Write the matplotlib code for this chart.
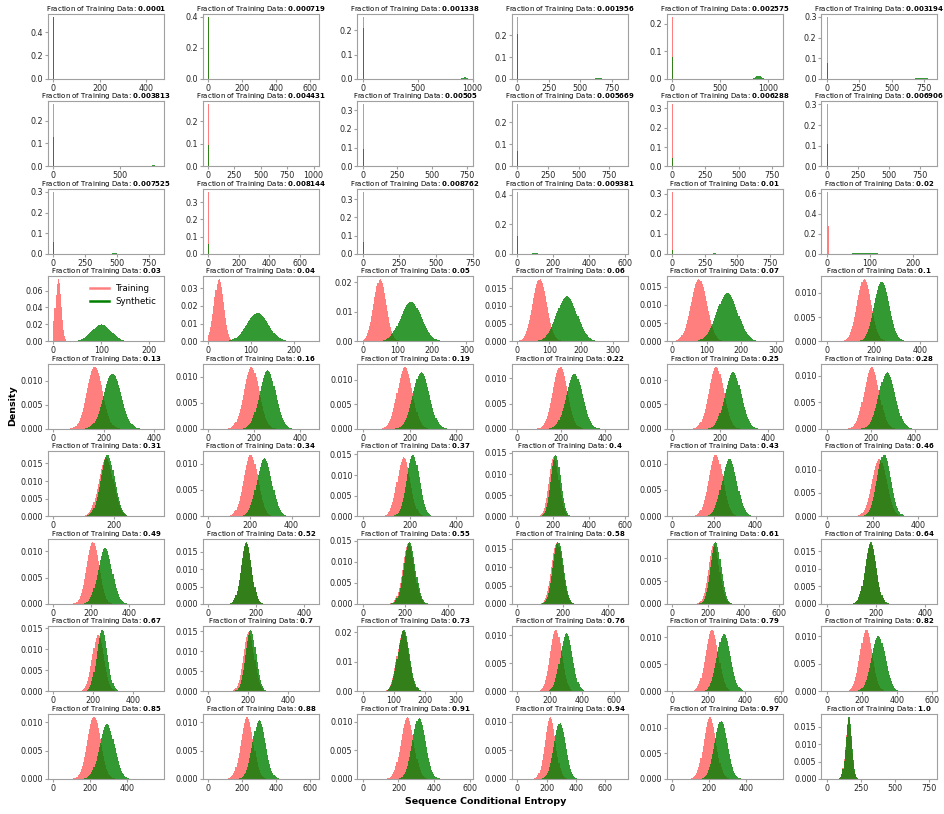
import numpy as np
import matplotlib.pyplot as plt
from matplotlib.lines import Line2D
from matplotlib.ticker import MultipleLocator

# Chart data
FRACTIONS = ["0.0001", "0.000719", "0.001338", "0.001956", "0.002575", "0.003194",
             "0.003813", "0.004431", "0.00505", "0.005669", "0.006288", "0.006906",
             "0.007525", "0.008144", "0.008762", "0.009381", "0.01", "0.02",
             "0.03", "0.04", "0.05", "0.06", "0.07", "0.1",
             "0.13", "0.16", "0.19", "0.22", "0.25", "0.28",
             "0.31", "0.34", "0.37", "0.4", "0.43", "0.46",
             "0.49", "0.52", "0.55", "0.58", "0.61", "0.64",
             "0.67", "0.7", "0.73", "0.76", "0.79", "0.82",
             "0.85", "0.88", "0.91", "0.94", "0.97", "1.0"]

# largest entropy value seen in each panel
DATA_MAX = [457, 620, 960, 840, 1100, 810,
            790, 1000, 760, 860, 790, 850,
            830, 690, 720, 590, 810, 245,
            220, 245, 305, 330, 305, 450,
            420, 460, 450, 480, 440, 480,
            350, 505, 450, 590, 505, 460,
            560, 440, 495, 465, 590, 430,
            530, 530, 340, 655, 580, 600,
            570, 620, 590, 720, 570, 770]

# x tick spacing shown in each panel
X_TICK_STEP = [200, 200, 500, 250, 500, 250,
               500, 250, 250, 250, 250, 250,
               250, 200, 250, 200, 250, 100,
               100, 100, 100, 100, 100, 200,
               200, 200, 200, 200, 200, 200,
               200, 200, 200, 200, 200, 200,
               200, 200, 200, 200, 200, 200,
               200, 200, 100, 200, 200, 200,
               200, 200, 200, 200, 200, 250]

# density of the zero-entropy bin
TRAIN_SPIKE = [0.53, 0.40, 0.255, 0.285, 0.225, 0.30,
               0.27, 0.275, 0.33, 0.28, 0.32, 0.30,
               0.30, 0.36, 0.34, 0.42, 0.31, 0.61] + [0] * 36
SYNTH_SPIKE = [0.53, 0.40, 0.21, 0.205, 0.078, 0.075,
               0.13, 0.095, 0.095, 0.07, 0.045, 0.11,
               0.06, 0.06, 0.065, 0.12, 0.02, 0.0] + [0] * 36

# main bump of each distribution: peak density, position, spread
TRAIN_PEAK = [0] * 17 + [0.28,
              0.073, 0.035, 0.021, 0.0175, 0.017, 0.0127,
              0.0128, 0.0119, 0.0126, 0.0122, 0.0127, 0.0117,
              0.0165, 0.0117, 0.0143, 0.0140, 0.0117, 0.0122,
              0.0118, 0.0176, 0.0145, 0.0165, 0.0130, 0.0172,
              0.0135, 0.0148, 0.0205, 0.0110, 0.0115, 0.0112,
              0.0109, 0.0109, 0.0108, 0.0108, 0.0121, 0.0175]
TRAIN_CENTER = [0] * 17 + [3.5,
                10, 25, 50, 70, 78, 160,
                165, 190, 180, 195, 185, 205,
                175, 205, 175, 205, 210, 230,
                210, 160, 215, 175, 235, 180,
                225, 205, 130, 240, 220, 225,
                220, 230, 250, 225, 205, 160]
TRAIN_WIDTH = [1] * 17 + [0.8,
               6, 11, 18, 22, 23, 30,
               31, 33, 32, 33, 31, 34,
               24, 34, 28, 28, 34, 32,
               33, 22, 27, 24, 30, 23,
               29, 27, 19, 36, 35, 35,
               36, 36, 36, 36, 33, 22]

SYNTH_PEAK = [0.0005, 0.0005, 0.006, 0.002, 0.012, 0.006,
              0.004, 0.003, 0.003, 0.003, 0.004, 0.002,
              0.002, 0.002, 0.002, 0.003, 0.002, 0.013,
              0.020, 0.016, 0.0135, 0.0127, 0.0133, 0.0122,
              0.0114, 0.0113, 0.0115, 0.0109, 0.0116, 0.0107,
              0.0175, 0.0110, 0.0150, 0.0146, 0.0109, 0.0132,
              0.0107, 0.0178, 0.0147, 0.0168, 0.0135, 0.0176,
              0.0147, 0.0154, 0.0210, 0.0104, 0.0107, 0.0100,
              0.0097, 0.0103, 0.0106, 0.0097, 0.0112, 0.0180]
SYNTH_CENTER = [400, 560, 930, 650, 900, 730,
                750, 700, 500, 600, 650, 200,
                480, 370, 200, 100, 330, 90,
                100, 115, 140, 155, 160, 235,
                235, 260, 250, 260, 255, 275,
                180, 270, 215, 215, 275, 250,
                275, 160, 220, 180, 245, 180,
                245, 215, 132, 305, 285, 295,
                290, 300, 315, 290, 265, 162]
SYNTH_WIDTH = [30, 30, 20, 40, 25, 30,
               40, 50, 50, 60, 50, 60,
               60, 50, 50, 40, 60, 20,
               20, 25, 30, 32, 30, 32,
               35, 35, 35, 37, 34, 37,
               23, 36, 27, 27, 36, 30,
               37, 22, 27, 23, 29, 23,
               27, 26, 19, 38, 37, 40,
               40, 38, 37, 40, 35, 22]

# Matplotlib configuration
N_ROWS, N_COLS = 9, 6
N_BINS = 100
TRAIN_COLOR = "red"
SYNTH_COLOR = "green"
SPINE_COLOR = "#a0a0a0"
TEXT_COLOR = "#262626"
PX = 1 / 100
FIG_SIZE = (944 * PX, 814 * PX)

plt.rcParams["xtick.labelsize"] = 5.8
plt.rcParams["ytick.labelsize"] = 5.8
plt.rcParams["xtick.major.size"] = 2
plt.rcParams["ytick.major.size"] = 2

fig, axes = plt.subplots(N_ROWS, N_COLS, figsize=FIG_SIZE, dpi=100)
fig.subplots_adjust(left=0.051, right=0.993, top=0.983, bottom=0.043,
                    wspace=0.333, hspace=0.346)

for i, ax in enumerate(axes.flat):
    edges = np.linspace(0, DATA_MAX[i], N_BINS + 1)
    centers = 0.5 * (edges[:-1] + edges[1:])

    train = TRAIN_PEAK[i] * np.exp(-0.5 * ((centers - TRAIN_CENTER[i]) / TRAIN_WIDTH[i]) ** 2)
    synth = SYNTH_PEAK[i] * np.exp(-0.5 * ((centers - SYNTH_CENTER[i]) / SYNTH_WIDTH[i]) ** 2)
    train[0] += TRAIN_SPIKE[i]
    synth[0] += SYNTH_SPIKE[i]

    ax.hist(centers, bins=edges, weights=train, histtype="stepfilled",
            color=TRAIN_COLOR, alpha=0.5, linewidth=0)
    ax.hist(centers, bins=edges, weights=synth, histtype="stepfilled",
            color=SYNTH_COLOR, alpha=0.8, linewidth=0)

    ax.set_xlim(-0.05 * DATA_MAX[i], 1.05 * DATA_MAX[i])
    ax.xaxis.set_major_locator(MultipleLocator(X_TICK_STEP[i]))
    ax.set_title(r"Fraction of Training Data: $\bf{" + FRACTIONS[i] + "}$",
                 fontsize=5.0, pad=2, color="black")
    for spine in ax.spines.values():
        spine.set_color(SPINE_COLOR)
    ax.tick_params(colors=SPINE_COLOR, labelcolor=TEXT_COLOR, pad=1.5)

    if i == 18:
        handles = [Line2D([], [], color=TRAIN_COLOR, alpha=0.5, lw=1.8),
                   Line2D([], [], color=SYNTH_COLOR, lw=1.8)]
        ax.legend(handles, ["Training", "Synthetic"], loc="upper right",
                  frameon=False, fontsize=6.2, handlelength=2.2)

fig.text(0.013, 0.502, "Density", rotation=90, ha="center", va="center",
         fontsize=6.8, fontweight="bold")
fig.text(0.514, 0.015, "Sequence Conditional Entropy", ha="center", va="center",
         fontsize=6.8, fontweight="bold")

plt.savefig("out.png", dpi=100)
